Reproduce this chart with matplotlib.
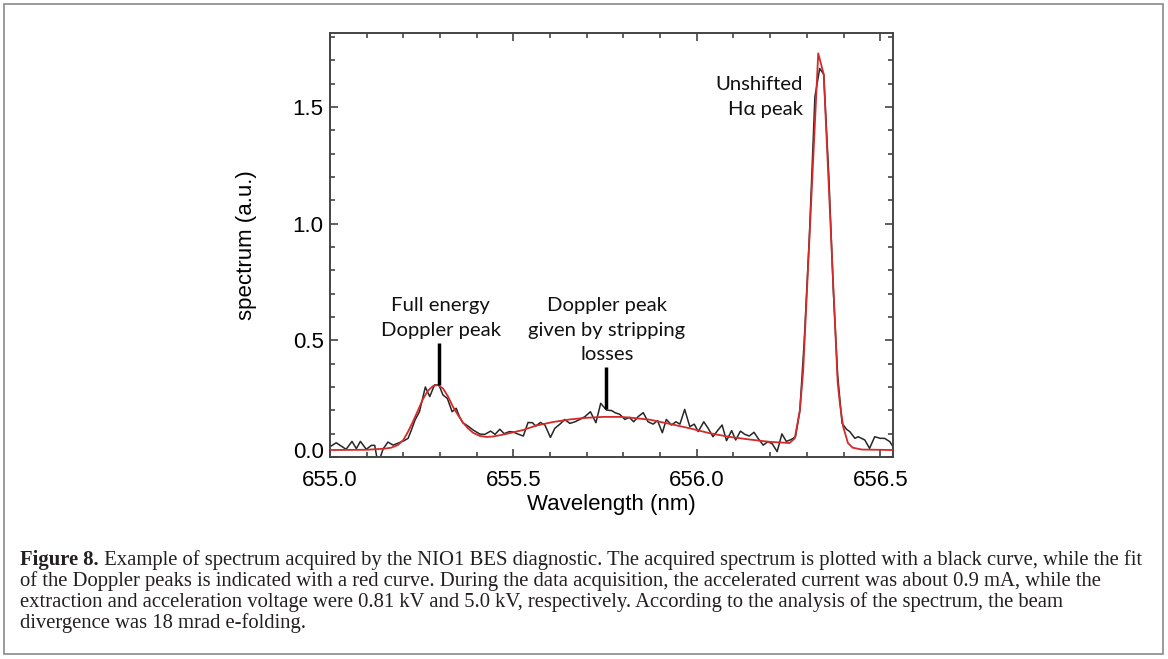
import numpy as np
import matplotlib
matplotlib.use('Agg')
import matplotlib.pyplot as plt
import matplotlib.transforms as mtransforms
from matplotlib.patches import Rectangle
from matplotlib.ticker import MultipleLocator, FormatStrFormatter

# measured spectrum (black curve), wavelength in nm
wl_meas = [655.000, 655.017, 655.044, 655.060, 655.072, 655.083, 655.099, 655.113,
           655.122, 655.131, 655.145, 655.158, 655.172, 655.185, 655.202, 655.213,
           655.222, 655.232, 655.244, 655.260, 655.272, 655.285, 655.297, 655.308,
           655.320, 655.333, 655.344, 655.353, 655.362, 655.376, 655.390, 655.409,
           655.422, 655.438, 655.450, 655.463, 655.475, 655.489, 655.500, 655.513,
           655.527, 655.540, 655.552, 655.561, 655.574, 655.586, 655.601, 655.613,
           655.627, 655.640, 655.654, 655.668, 655.681, 655.695, 655.710, 655.725,
           655.738, 655.754, 655.768, 655.777, 655.790, 655.804, 655.816, 655.828,
           655.840, 655.854, 655.867, 655.881, 655.893, 655.906, 655.917, 655.931,
           655.943, 655.954, 655.967, 655.981, 655.993, 656.004, 656.019, 656.031,
           656.044, 656.058, 656.069, 656.081, 656.095, 656.106, 656.119, 656.131,
           656.143, 656.156, 656.167, 656.181, 656.194, 656.206, 656.219, 656.232,
           656.244, 656.256, 656.269, 656.281, 656.293, 656.307, 656.322, 656.335,
           656.346, 656.360, 656.372, 656.384, 656.396, 656.408, 656.417, 656.431,
           656.440, 656.458, 656.471, 656.485, 656.500, 656.512, 656.526, 656.535]
spec_meas = [0.044, 0.061, 0.033, 0.067, 0.036, 0.067, 0.033, 0.050,
             0.050, -0.030, 0.035, 0.064, 0.051, 0.059, 0.070, 0.080,
             0.116, 0.159, 0.194, 0.300, 0.259, 0.309, 0.309, 0.266,
             0.251, 0.194, 0.209, 0.173, 0.147, 0.133, 0.116, 0.098,
             0.097, 0.111, 0.097, 0.119, 0.100, 0.109, 0.107, 0.098,
             0.090, 0.148, 0.147, 0.133, 0.148, 0.137, 0.084, 0.123,
             0.141, 0.161, 0.144, 0.151, 0.161, 0.173, 0.194, 0.147,
             0.230, 0.201, 0.199, 0.190, 0.183, 0.161, 0.170, 0.151,
             0.173, 0.190, 0.151, 0.141, 0.156, 0.104, 0.161, 0.137,
             0.151, 0.141, 0.204, 0.130, 0.141, 0.109, 0.151, 0.123,
             0.087, 0.116, 0.137, 0.070, 0.113, 0.073, 0.111, 0.097,
             0.090, 0.106, 0.080, 0.051, 0.066, 0.056, 0.023, 0.099,
             0.067, 0.074, 0.086, 0.200, 0.500, 0.950, 1.544, 1.665,
             1.640, 1.200, 0.720, 0.350, 0.145, 0.119, 0.109, 0.080,
             0.087, 0.073, 0.037, 0.087, 0.080, 0.080, 0.066, 0.044]

# fit of the Doppler peaks (red curve)
wl_fit = [655.000, 655.100, 655.150, 655.167, 655.185, 655.200, 655.213, 655.226,
          655.240, 655.253, 655.267, 655.281, 655.294, 655.308, 655.322, 655.335,
          655.349, 655.362, 655.376, 655.390, 655.409, 655.427, 655.445, 655.472,
          655.500, 655.527, 655.563, 655.608, 655.654, 655.699, 655.745, 655.790,
          655.817, 655.872, 655.926, 655.981, 656.035, 656.090, 656.144, 656.199,
          656.253, 656.267, 656.281, 656.290, 656.331, 656.346, 656.384, 656.390,
          656.399, 656.412, 656.425, 656.450, 656.535]
spec_fit = [0.030, 0.031, 0.036, 0.040, 0.051, 0.073, 0.109, 0.151,
            0.200, 0.247, 0.284, 0.304, 0.309, 0.294, 0.259, 0.216,
            0.180, 0.149, 0.123, 0.104, 0.090, 0.086, 0.088, 0.096,
            0.106, 0.116, 0.135, 0.150, 0.161, 0.168, 0.172, 0.172,
            0.169, 0.160, 0.142, 0.123, 0.102, 0.086, 0.075, 0.065,
            0.060, 0.080, 0.200, 0.370, 1.730, 1.640, 0.320, 0.230,
            0.130, 0.060, 0.040, 0.032, 0.030]

# annotations: text, text position, pointer line
labels = ['Full energy\nDoppler peak',
          'Doppler peak\ngiven by stripping\nlosses',
          'Unshifted\nH\u03b1 peak']
label_x = [655.302, 655.755, 656.289]
label_y = [0.595, 0.544, 1.543]
label_ha = ['center', 'center', 'right']
pointer_x = [655.297, 655.752]
pointer_top = [0.49, 0.386]
pointer_bottom = [0.309, 0.204]

caption_bold = 'Figure 8.'
caption_lines = [
    ' Example of spectrum acquired by the NIO1 BES diagnostic. The acquired spectrum is plotted with a black curve, while the fit',
    'of the Doppler peaks is indicated with a red curve. During the data acquisition, the accelerated current was about 0.9 mA, while the',
    'extraction and acceleration voltage were 0.81 kV and 5.0 kV, respectively. According to the analysis of the spectrum, the beam',
    'divergence was 18 mrad e-folding.',
]

fig = plt.figure(figsize=(11.68, 6.59), dpi=100)
ax = fig.add_axes([0.2825, 0.3065, 0.4821, 0.6434])

ax.plot(wl_meas, spec_meas, color='#262626', lw=1.1, zorder=2)
ax.plot(wl_fit, spec_fit, color='#d42a2a', lw=1.3, zorder=3)

ax.set_xlim(655.0, 656.535)
ax.set_ylim(0.0, 1.817)
ax.xaxis.set_major_locator(MultipleLocator(0.5))
ax.xaxis.set_minor_locator(MultipleLocator(0.1))
ax.yaxis.set_major_locator(MultipleLocator(0.5))
ax.yaxis.set_minor_locator(MultipleLocator(0.1))
ax.xaxis.set_major_formatter(FormatStrFormatter('%.1f'))
ax.yaxis.set_major_formatter(FormatStrFormatter('%.1f'))
ax.tick_params(which='both', direction='in', top=True, right=True,
               color='#444444', width=1.2)
ax.tick_params(which='major', length=6, labelsize=16)
ax.tick_params(axis='x', which='major', pad=9.5)
ax.tick_params(axis='y', which='major', pad=4.5)
ax.tick_params(which='minor', length=3.5)
for lab in ax.get_xticklabels() + ax.get_yticklabels():
    lab.set_family('Liberation Sans')
for sp in ax.spines.values():
    sp.set_color('#444444')
    sp.set_linewidth(1.4)

# the "0.0" label sits a little above the bottom spine in the original
fig.canvas.draw()
ylabs = ax.get_yticklabels()
shift = mtransforms.ScaledTranslation(0, 7 / 100, fig.dpi_scale_trans)
for lab in ylabs:
    if lab.get_text() == '0.0':
        lab.set_transform(lab.get_transform() + shift)

ax.set_xlabel('Wavelength (nm)', family='Liberation Sans', fontsize=16, labelpad=2)
ax.set_ylabel('spectrum (a.u.)', family='Liberation Sans', fontsize=16, labelpad=26)

for txt, tx, ty, ha in zip(labels, label_x, label_y, label_ha):
    ax.text(tx, ty, txt, ha=ha, va='center', family='Lato', fontsize=14.6,
            linespacing=1.55, color='#111111')
ax.vlines(pointer_x, pointer_bottom, pointer_top, color='black', lw=2.5, zorder=4)

# caption below the plot
renderer = fig.canvas.get_renderer()
cap_x = 20 / 1168
cap_y = [1 - 560 / 659, 1 - 581 / 659, 1 - 602 / 659, 1 - 623 / 659]
cap_size = 14.9
bold = fig.text(cap_x, cap_y[0], caption_bold, family='Liberation Serif',
                weight='bold', fontsize=cap_size, va='center', color='#231f20')
bb = bold.get_window_extent(renderer)
fig.text(bb.x1 / fig.bbox.width, cap_y[0], caption_lines[0], family='Liberation Serif',
         fontsize=cap_size, va='center', color='#231f20')
for line, y in zip(caption_lines[1:], cap_y[1:]):
    fig.text(cap_x, y, line, family='Liberation Serif', fontsize=cap_size,
             va='center', color='#231f20')

# frame around the whole figure
fig.patches.append(Rectangle((4 / 1168, 5 / 659), 1159 / 1168, 650 / 659,
                             transform=fig.transFigure, fill=False,
                             edgecolor='#8a8a8a', lw=1.2))

fig.savefig('out.png', dpi=100)
